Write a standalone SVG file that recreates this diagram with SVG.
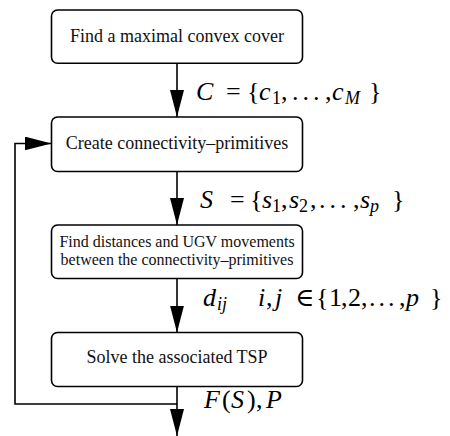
<svg xmlns="http://www.w3.org/2000/svg" width="450" height="436" viewBox="0 0 450 436">
<defs>
<marker id="ah" markerUnits="userSpaceOnUse" markerWidth="27" markerHeight="14" refX="27" refY="7" orient="auto">
<path d="M0,0 L27,7 L0,14 z" fill="#000"/>
</marker>
<style>
.box{fill:#fff;stroke:#000;stroke-width:1.6}
.lbl{font-size:18px;fill:#111;text-anchor:middle}
.sm{font-size:16px}
.edge{fill:none;stroke:#000;stroke-width:1.6;marker-end:url(#ah)}
.m{font-size:26px;fill:#000}
.i{font-style:italic}
.sub{font-size:18px}
.dots{letter-spacing:4px}
</style>
</defs>
<rect width="450" height="436" fill="#fff"/>
<g id="connectors">
<path class="edge" d="M177,63 V117"/>
<path class="edge" d="M177,171.5 V225"/>
<path class="edge" d="M177,278.5 V332.5"/>
<path class="edge" d="M177,386.5 V436"/>
<path class="edge" d="M177,404 H15 V143.5 H51.5"/>
</g>
<g font-family="Liberation Serif, DejaVu Serif, serif">
<g id="n1">
<rect class="box" x="51.5" y="10" width="251" height="53.3" rx="6"/>
<text class="lbl" x="177" y="42">Find a maximal convex cover</text>
</g>
<g id="n2">
<rect class="box" x="51.5" y="117" width="251" height="54.5" rx="6"/>
<text class="lbl" x="177" y="148.5">Create connectivity–primitives</text>
</g>
<g id="n3">
<rect class="box" x="51.5" y="225" width="251" height="53.5" rx="6"/>
<text class="lbl sm" x="177" y="247">Find distances and UGV movements</text>
<text class="lbl sm" x="177" y="265">between the connectivity–primitives</text>
</g>
<g id="n4">
<rect class="box" x="51.5" y="332.5" width="251" height="54" rx="6"/>
<text class="lbl" x="177" y="362.5">Solve the associated TSP</text>
</g>
<g id="labels">
<text class="m" y="100"><tspan class="i" x="196">C</tspan><tspan x="226">=</tspan><tspan x="247">{</tspan><tspan class="i" x="259">c</tspan><tspan class="sub" x="272" y="104">1</tspan><tspan x="281" y="100">,</tspan><tspan class="dots" x="292">...</tspan><tspan x="325">,</tspan><tspan class="i" x="332">c</tspan><tspan class="i sub" x="345" y="104">M</tspan><tspan x="369" y="100">}</tspan></text>
<text class="m" y="208"><tspan class="i" x="200">S</tspan><tspan x="230">=</tspan><tspan x="250">{</tspan><tspan class="i" x="262">s</tspan><tspan class="sub" x="272" y="212">1</tspan><tspan x="281" y="208">,</tspan><tspan class="i" x="289">s</tspan><tspan class="sub" x="299" y="212">2</tspan><tspan x="310" y="208">,</tspan><tspan class="dots" x="319">...</tspan><tspan x="353">,</tspan><tspan class="i" x="360">s</tspan><tspan class="i sub" x="370" y="212">p</tspan><tspan x="392" y="208">}</tspan></text>
<text class="m" y="306"><tspan class="i" x="203">d</tspan><tspan class="i sub" x="217" y="310">ij</tspan><tspan class="i" x="258" y="306">i</tspan><tspan x="266">,</tspan><tspan class="i" x="275">j</tspan><tspan x="295">∈</tspan><tspan x="316">{</tspan><tspan x="329">1</tspan><tspan x="341">,</tspan><tspan x="348">2</tspan><tspan x="361">,</tspan><tspan class="dots" x="369" style="letter-spacing:3px">...</tspan><tspan x="399">,</tspan><tspan class="i" x="406">p</tspan><tspan x="430">}</tspan></text>
<text class="m" y="408"><tspan class="i" x="204">F</tspan><tspan x="222">(</tspan><tspan class="i" x="231">S</tspan><tspan x="247">)</tspan><tspan x="256">,</tspan><tspan class="i" x="266">P</tspan></text>
</g>
</g>
</svg>
